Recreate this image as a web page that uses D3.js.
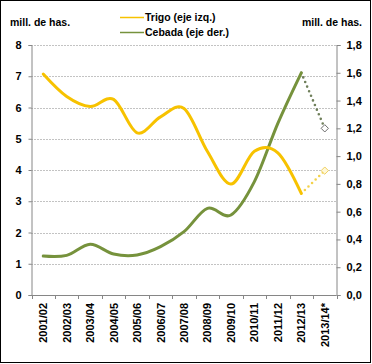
<!DOCTYPE html>
<html>
<head>
<meta charset="utf-8">
<script src="https://cdn.jsdelivr.net/npm/d3@7"></script>
<style>
  html, body { margin: 0; padding: 0; background: #fff; }
  svg text { font-family: "Liberation Sans", Arial, sans-serif; font-weight: bold; fill: #000; }
</style>
</head>
<body>
<svg id="chart" width="372" height="364"></svg>
<script>
// campaigns
const CATEGORIES = ['2001/02','2002/03','2003/04','2004/05','2005/06','2006/07',
  '2007/08','2008/09','2009/10','2010/11','2011/12','2012/13','2013/14*'];

// millions of hectares
const TRIGO  = [7.07, 6.35, 6.03, 6.26, 5.19, 5.7, 5.97, 4.59, 3.55, 4.6, 4.55, 3.25];
const CEBADA = [0.28, 0.285, 0.365, 0.295, 0.288, 0.348, 0.456, 0.624, 0.576, 0.816, 1.236, 1.6];
// last campaign is a forecast (dotted)
const TRIGO_EST  = 3.98;
const CEBADA_EST = 1.2;

const LEFT_TICKS  = [0, 1, 2, 3, 4, 5, 6, 7, 8];
const RIGHT_TICKS = [0, 0.2, 0.4, 0.6, 0.8, 1.0, 1.2, 1.4, 1.6, 1.8];

const C_TRIGO = '#f7c200', C_CEBADA = '#76923c', C_AXIS = '#868686';
const PLOT = { left: 31.5, right: 336.5, top: 45, bottom: 295 };

const svg = d3.select('#chart');

// outer frame
svg.append('rect')
  .attr('x', 0.5).attr('y', 0.5).attr('width', 370).attr('height', 362)
  .attr('fill', '#fff').attr('stroke', '#000').attr('stroke-width', 1);

const x = d3.scaleBand().domain(CATEGORIES).range([PLOT.left, PLOT.right]);
const yL = d3.scaleLinear().domain([0, 8]).range([PLOT.bottom, PLOT.top]);
const yR = d3.scaleLinear().domain([0, 1.8]).range([PLOT.bottom, PLOT.top]);
const cx = c => x(c) + x.bandwidth() / 2;

// gridlines (left axis)
svg.append('g').selectAll('line')
  .data(LEFT_TICKS.filter(d => d > 0))
  .join('line')
  .attr('x1', PLOT.left).attr('x2', PLOT.right)
  .attr('y1', d => Math.round(yL(d)) + 0.5).attr('y2', d => Math.round(yL(d)) + 0.5)
  .attr('stroke', C_AXIS).attr('stroke-dasharray', '1,2');

// left axis
const axL = svg.append('g').attr('transform', `translate(${PLOT.left},0)`)
  .call(d3.axisLeft(yL).tickValues(LEFT_TICKS).tickSize(3).tickPadding(7).tickFormat(d3.format('d')));
// right axis
const axR = svg.append('g').attr('transform', `translate(${PLOT.right},0)`)
  .call(d3.axisRight(yR).tickValues(RIGHT_TICKS).tickSize(4).tickPadding(6)
    .tickFormat(d => d3.format('.1f')(d).replace('.', ',')));
[axL, axR].forEach(a => {
  a.select('.domain').attr('stroke', C_AXIS);
  a.selectAll('.tick line').attr('stroke', C_AXIS);
  a.selectAll('.tick text').attr('font-size', 11).attr('font-family', null);
});

// bottom axis: ticks between categories
const bottom = svg.append('g');
bottom.append('line')
  .attr('x1', PLOT.left).attr('x2', PLOT.right)
  .attr('y1', PLOT.bottom + 0.5).attr('y2', PLOT.bottom + 0.5)
  .attr('stroke', C_AXIS);
bottom.selectAll('line.tk')
  .data(CATEGORIES.map(c => x(c)).concat([PLOT.right]))
  .join('line').attr('class', 'tk')
  .attr('x1', d => Math.round(d) + 0.5).attr('x2', d => Math.round(d) + 0.5)
  .attr('y1', PLOT.bottom).attr('y2', PLOT.bottom + 4)
  .attr('stroke', C_AXIS);
bottom.selectAll('text')
  .data(CATEGORIES)
  .join('text')
  .attr('transform', d => `translate(${cx(d) + 4},${PLOT.bottom + 8}) rotate(-90)`)
  .attr('text-anchor', 'end')
  .attr('font-size', 11)
  .text(d => d);

// series
const line = y => d3.line().x(d => cx(d[0])).y(d => y(d[1])).curve(d3.curveCatmullRom.alpha(0));
const trigoPts  = TRIGO.map((v, i) => [CATEGORIES[i], v]);
const cebadaPts = CEBADA.map((v, i) => [CATEGORIES[i], v]);
const last = CATEGORIES[CATEGORIES.length - 1];

function projection(pts, est, y, color, markFill, markStroke) {
  const p = [pts[pts.length - 1], [last, est]];
  svg.append('path')
    .attr('d', d3.line().x(d => cx(d[0])).y(d => y(d[1]))(p))
    .attr('fill', 'none').attr('stroke', color).attr('stroke-width', 2.6)
    .attr('stroke-linecap', 'round').attr('stroke-dasharray', '0,5');
  svg.append('path')
    .attr('d', d3.symbol(d3.symbolDiamond2, 34)())
    .attr('transform', `translate(${cx(last)},${y(est)})`)
    .attr('fill', markFill).attr('stroke', markStroke).attr('stroke-width', 1);
}

projection(cebadaPts, CEBADA_EST, yR, '#6f7f5a', '#fff', '#6d6d6d');
projection(trigoPts, TRIGO_EST, yL, '#f3d24c', '#fff8d8', '#f0d060');

svg.append('path').datum(cebadaPts)
  .attr('d', line(yR))
  .attr('fill', 'none').attr('stroke', C_CEBADA).attr('stroke-width', 3)
  .attr('stroke-linecap', 'round');
svg.append('path').datum(trigoPts)
  .attr('d', line(yL))
  .attr('fill', 'none').attr('stroke', C_TRIGO).attr('stroke-width', 3)
  .attr('stroke-linecap', 'round');

// unit labels
svg.append('text').attr('x', 10).attr('y', 26).attr('font-size', 10.5).text('mill. de has.');
svg.append('text').attr('x', 362).attr('y', 26).attr('font-size', 10.5)
  .attr('text-anchor', 'end').text('mill. de has.');

// legend
const legend = [['Trigo (eje izq.)', C_TRIGO], ['Cebada (eje der.)', C_CEBADA]];
const lg = svg.append('g').selectAll('g').data(legend).join('g')
  .attr('transform', (d, i) => `translate(120,${17 + i * 15})`);
lg.append('line').attr('x1', 0).attr('x2', 24).attr('y1', 0.5).attr('y2', 0.5)
  .attr('stroke', d => d[1]).attr('stroke-width', 1.5);
lg.append('text').attr('x', 25).attr('y', 4).attr('font-size', 10.5).text(d => d[0]);
</script>
</body>
</html>
